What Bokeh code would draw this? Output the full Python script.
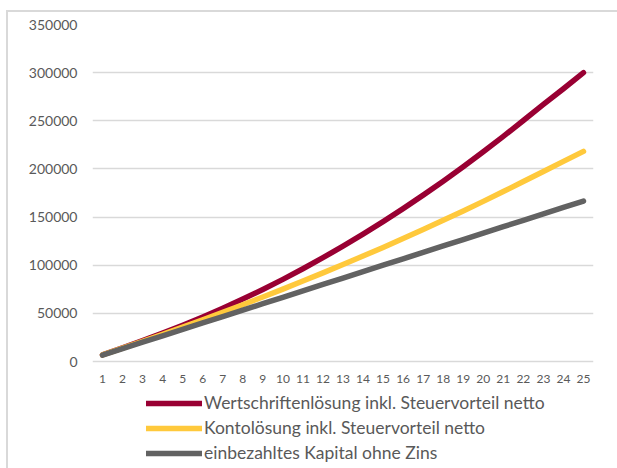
from bokeh.plotting import figure
from bokeh.models import Range1d, FixedTicker, Legend, LegendItem, BasicTickFormatter
from bokeh.core.properties import value
from bokeh.embed import file_html
from bokeh.resources import INLINE

years = list(range(1, 26))
year_labels = [str(y) for y in years]
wertschriften = [7000, 14200, 21700, 29500, 37700, 46300, 55300, 64800, 74800, 85300,
                 96300, 107800, 119800, 132300, 145300, 158800, 172800, 187300, 202300,
                 217800, 233800, 250300, 267000, 283300, 300000]
konto = [6800, 13800, 20950, 28250, 35700, 43300, 51050, 58950, 67000, 75200,
         83550, 92050, 100700, 109500, 118500, 127700, 137000, 146600, 156300,
         166300, 176500, 186900, 197300, 207800, 218200]
einbezahlt = [6667, 13333, 20000, 26667, 33333, 40000, 46667, 53333, 60000, 66667,
              73333, 80000, 86667, 93333, 100000, 106667, 113333, 120000, 126667,
              133333, 140000, 146667, 153333, 160000, 166667]
y_ticks = [0, 50000, 100000, 150000, 200000, 250000, 300000, 350000]
labels = ["Wertschriftenlösung inkl. Steuervorteil netto",
          "Kontolösung inkl. Steuervorteil netto",
          "einbezahltes Kapital ohne Zins"]
colors = ["#990033", "#FFC93C", "#626262"]

FONT = "Lato"
TXT = "#595959"

frame_css = ("linear-gradient(#D9D9D9,#D9D9D9) 6px 10px / 2px 100% no-repeat, "
             "linear-gradient(#D9D9D9,#D9D9D9) 6px 10px / 100% 2px no-repeat, white")

# plot area: value 0 sits 107 px above the bottom edge, 350000 sits 24 px below the top
Y_MAX = 350000
Y_MIN = -Y_MAX * 107 / 337

p = figure(width=617, height=468, output_backend="svg", toolbar_location=None,
           x_range=Range1d(0.5, 25.5), y_range=Range1d(Y_MIN, Y_MAX),
           min_border_left=92, min_border_right=24, min_border_top=24, min_border_bottom=0,
           styles={"background": frame_css})
p.outline_line_color = None
p.background_fill_alpha = 0
p.border_fill_alpha = 0

p.xgrid.grid_line_color = None
p.ygrid.grid_line_color = "#D9D9D9"
p.ygrid.grid_line_width = 1.5
p.yaxis.ticker = FixedTicker(ticks=y_ticks)
p.yaxis.formatter = BasicTickFormatter(use_scientific=False)
p.xaxis.visible = False

ax = p.yaxis[0]
ax.axis_line_color = None
ax.major_tick_line_color = None
ax.minor_tick_line_color = None
ax.major_tick_out = 0
ax.major_tick_in = 0
ax.major_label_text_font = FONT
ax.major_label_text_color = TXT
ax.major_label_text_font_size = "14px"
ax.major_label_standoff = 15

# category labels under the zero line
p.text(x=years, y=[0] * len(years), text=year_labels, y_offset=17,
       text_font=value(FONT), text_font_size="12px", text_color=TXT,
       text_align="center", text_baseline="middle")

renderers = []
for data, c in zip([wertschriften, konto, einbezahlt], colors):
    r = p.line(years, data, line_color=c, line_width=5.5, line_cap="round", line_join="round")
    renderers.append(r)

legend = Legend(items=[LegendItem(label=l, renderers=[r]) for l, r in zip(labels, renderers)],
                location=(54, 5), orientation="vertical")
legend.border_line_color = None
legend.background_fill_alpha = 0
legend.padding = 0
legend.margin = 0
legend.spacing = 4
legend.glyph_width = 56
legend.glyph_height = 20
legend.label_height = 20
legend.label_standoff = 2
legend.label_text_font = FONT
legend.label_text_font_size = "17.5px"
legend.label_text_color = TXT
p.add_layout(legend, "center")

open("out.html", "w").write(file_html(p, INLINE))
